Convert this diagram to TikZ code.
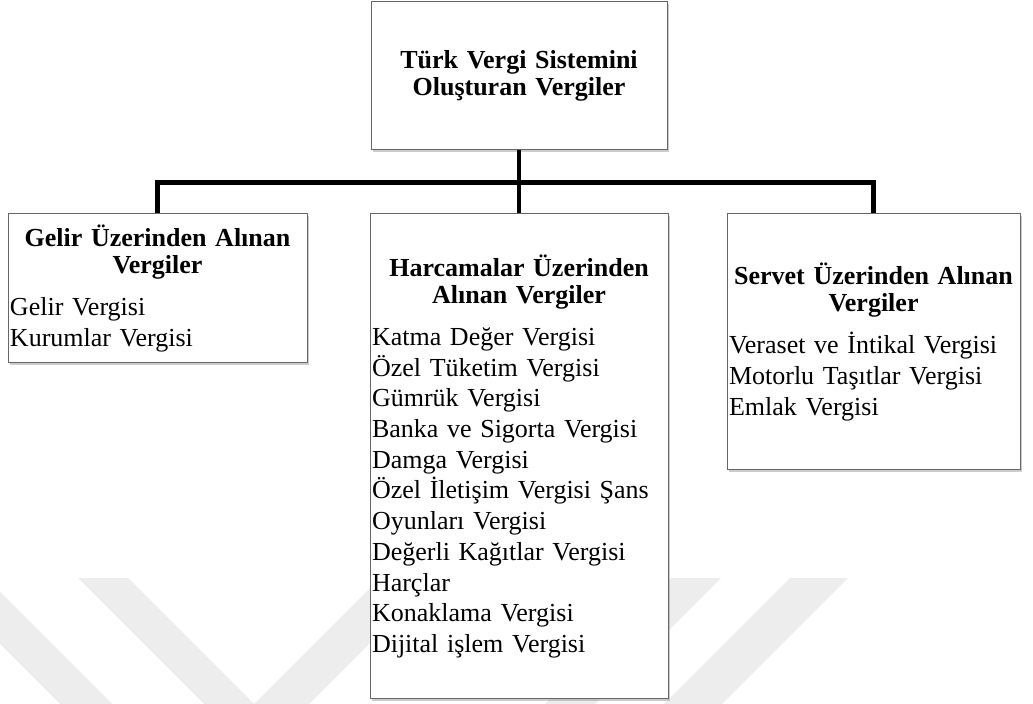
\documentclass[tikz,border=0pt]{standalone}
\usepackage{fontspec}
\setmainfont{Liberation Serif}
\usetikzlibrary{shadows,positioning}
\pgfdeclarelayer{background}
\pgfsetlayers{background,main}
\newcommand{\vtitle}[1]{{\centering\bfseries\baselineskip=13.5pt #1\par}\vspace{5.6pt}}

\begin{document}
\begin{tikzpicture}

\tikzstyle{vbox}=[draw=black!60, line width=0.5pt, fill=white, align=left,
    inner xsep=1pt, inner ysep=0pt, font=\fontsize{13pt}{15.35pt}\selectfont,
    drop shadow={shadow xshift=1.2pt, shadow yshift=-1.2pt, opacity=0.4}]
\tikzstyle{tree}=[line width=2.4pt, black]
\tikzstyle{wmark}=[fill=black!7]

\useasboundingbox (0,0) rectangle (516.5pt,-352pt);

\node[vbox, text width=146pt, minimum height=74pt, align=center,
    font=\fontsize{13pt}{13.5pt}\selectfont\bfseries] (vergi) at (259.5pt,-38pt)
    {Türk Vergi Sistemini\\ Oluşturan Vergiler\rule[-3pt]{0pt}{0pt}};

\node[vbox, text width=147pt, minimum height=242.5pt, below=31.5pt of vergi] (harcama)
    {\vtitle{Harcamalar Üzerinden\\ Alınan Vergiler}
    Katma Değer Vergisi\\ Özel Tüketim Vergisi\\ Gümrük Vergisi\\
    Banka ve Sigorta Vergisi\\ Damga Vergisi\\ Özel İletişim Vergisi Şans\\
    Oyunları Vergisi\\ Değerli Kağıtlar Vergisi\\ Harçlar\\
    Konaklama Vergisi\\ Dijital işlem Vergisi};

\node[vbox, text width=147.5pt, minimum height=74.5pt,
    left=31pt of harcama.north west, anchor=north east] (gelir)
    {\vtitle{Gelir Üzerinden Alınan\\ Vergiler}
    Gelir Vergisi\\ Kurumlar Vergisi};

\node[vbox, text width=144.5pt, minimum height=128pt,
    right=29pt of harcama.north east, anchor=north west] (servet)
    {\vtitle{Servet Üzerinden Alınan\\ Vergiler}
    Veraset ve İntikal Vergisi\\ Motorlu Taşıtlar Vergisi\\ Emlak Vergisi};

\coordinate[below=16pt of vergi.south] (hub);
\draw[tree] (vergi.south) -- (vergi.south |- harcama.north);
\draw[tree] (gelir.north) |- (hub) -| (servet.north);

    \begin{pgfonlayer}{background}
        \begin{scope}[x=0.5pt,y=-0.5pt]
        \foreach \a/\b/\s in {-66/-14/1, 78/128/1, 380/435/-1, 671/721/-1, 790/848/-1}
            \fill[wmark] (\a,578) -- (\b,578) -- ++(126*\s,126) -- ++(\a-\b,0) -- cycle;
        \end{scope}
    \end{pgfonlayer}

\end{tikzpicture}
\end{document}
